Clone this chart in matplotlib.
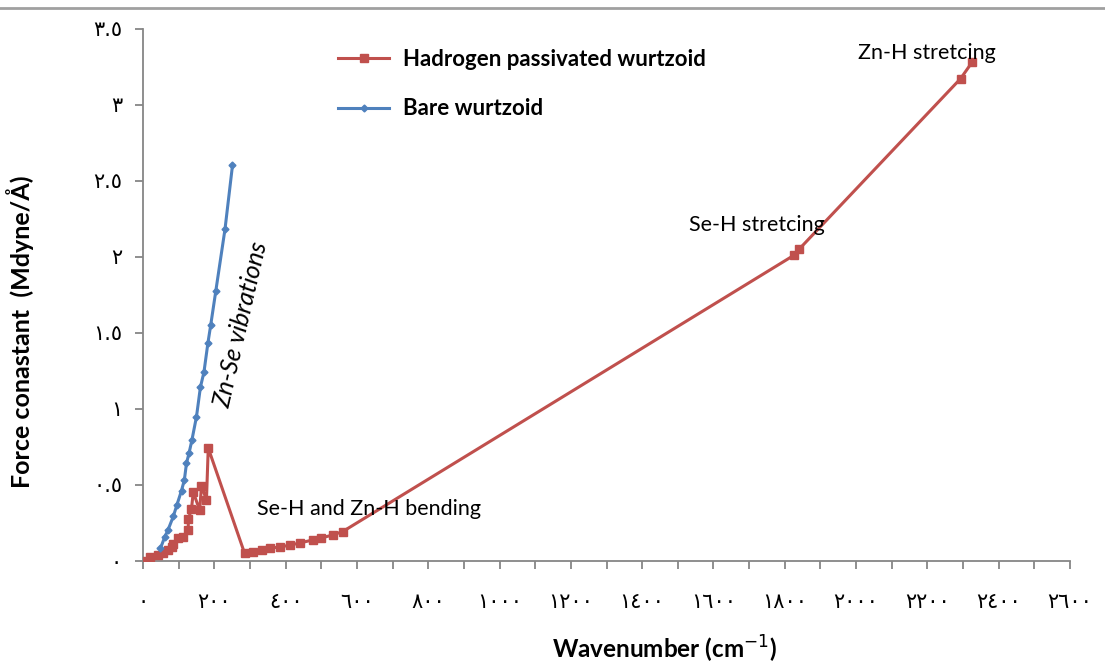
import matplotlib
matplotlib.use("Agg")
import matplotlib.pyplot as plt
from matplotlib.lines import Line2D
from matplotlib.ticker import MultipleLocator, FixedLocator

# Force constants of ZnSe wurtzoids versus vibrational wavenumber
bare_wavenumber = [49, 61, 70, 85, 95, 108, 116, 122, 129, 137, 150, 161, 171,
                   182, 190, 204, 230, 251]
bare_force = [0.08, 0.155, 0.20, 0.29, 0.365, 0.46, 0.53, 0.64, 0.705, 0.79,
              0.946, 1.14, 1.24, 1.43, 1.55, 1.77, 2.18, 2.60]

hyd_wavenumber = [0, 19, 43, 57, 71, 80, 85, 99, 113, 127, 127, 136, 141, 159,
                  164, 178, 183, 285, 308, 333, 355, 383, 411, 439, 476, 500,
                  532, 560, 1827, 1841, 2293, 2326]
hyd_force = [0.0, 0.025, 0.036, 0.047, 0.07, 0.09, 0.11, 0.146, 0.157, 0.20,
             0.27, 0.34, 0.45, 0.33, 0.49, 0.40, 0.74, 0.047, 0.058, 0.069,
             0.08, 0.089, 0.10, 0.115, 0.135, 0.148, 0.168, 0.19, 2.01, 2.05,
             3.17, 3.28]

x_ticks = list(range(0, 2601, 200))
y_ticks = [0, 0.5, 1, 1.5, 2, 2.5, 3, 3.5]

ARABIC = str.maketrans("0123456789", "٠١٢٣٤٥٦٧٨٩")


def to_arabic(v):
    return f"{v:g}".translate(ARABIC)


RED = "#C0504D"
BLUE = "#4F81BD"
GRAY = "#868686"
TEXT_FONT = ["Lato", "DejaVu Sans"]

fig = plt.figure(figsize=(11.05, 6.66), dpi=100)
ax = fig.add_axes([143 / 1105, (666 - 560.5) / 666,
                   (1070 - 143) / 1105, (560.5 - 28.5) / 666])

ax.plot(hyd_wavenumber, hyd_force, color=RED, lw=2.2, marker="s",
        markersize=6, label="Hadrogen passivated wurtzoid", zorder=3)
ax.plot(bare_wavenumber, bare_force, color=BLUE, lw=2.2, marker="D",
        markersize=3.5, label="Bare wurtzoid", zorder=4)

ax.set_xlim(0, 2600)
ax.set_ylim(0, 3.5)
ax.xaxis.set_major_locator(FixedLocator(x_ticks))
ax.xaxis.set_minor_locator(MultipleLocator(100))
ax.yaxis.set_major_locator(FixedLocator(y_ticks))
ax.set_xticklabels([to_arabic(v) for v in x_ticks], family="DejaVu Sans",
                   fontsize=15)
ax.set_yticklabels([to_arabic(v) for v in y_ticks], family="DejaVu Sans",
                   fontsize=15)

for side in ("top", "right"):
    ax.spines[side].set_visible(False)
for side in ("left", "bottom"):
    ax.spines[side].set_color(GRAY)
    ax.spines[side].set_linewidth(1.3)
ax.tick_params(which="both", direction="out", color=GRAY, width=1.3,
               length=6)
ax.tick_params(axis="x", which="major", pad=17)
ax.tick_params(axis="y", which="major", pad=9)

ax.set_xlabel("Wavenumber (cm$^{-1}$)", family=TEXT_FONT, fontsize=17.5,
              fontweight="bold")
ax.xaxis.set_label_coords((665 - 143) / 927, -(634 - 560.5) / 532)
ax.set_ylabel("Force conastant  (Mdyne/Å)", family=TEXT_FONT, fontsize=18,
              fontweight="bold")
ax.yaxis.set_label_coords(-(143 - 34) / 927, (560.5 - 332) / 532)

ax.text(276, 1.55, "Zn-Se vibrations", family=TEXT_FONT, fontsize=18,
        style="italic", rotation=77, ha="center", va="center")
ax.text(320, 0.34, "Se-H and Zn-H bending", family=TEXT_FONT, fontsize=15.5,
        ha="left", va="center")
ax.text(1530, 2.21, "Se-H stretcing", family=TEXT_FONT, fontsize=15.5,
        ha="left", va="center")
ax.text(2005, 3.34, "Zn-H stretcing", family=TEXT_FONT, fontsize=15.5,
        ha="left", va="center")

leg = ax.legend(loc="upper left", bbox_to_anchor=(0.189, 1.0), frameon=False,
                prop={"family": TEXT_FONT, "size": 16, "weight": "bold"},
                handlelength=2.3, labelspacing=1.3, handletextpad=0.6)

# chart area border along the top
fig.add_artist(Line2D([0, 1], [1 - 8 / 666, 1 - 8 / 666],
                      transform=fig.transFigure, color="#A0A0A0", lw=2))

fig.savefig("out.png", dpi=100, facecolor="white")
